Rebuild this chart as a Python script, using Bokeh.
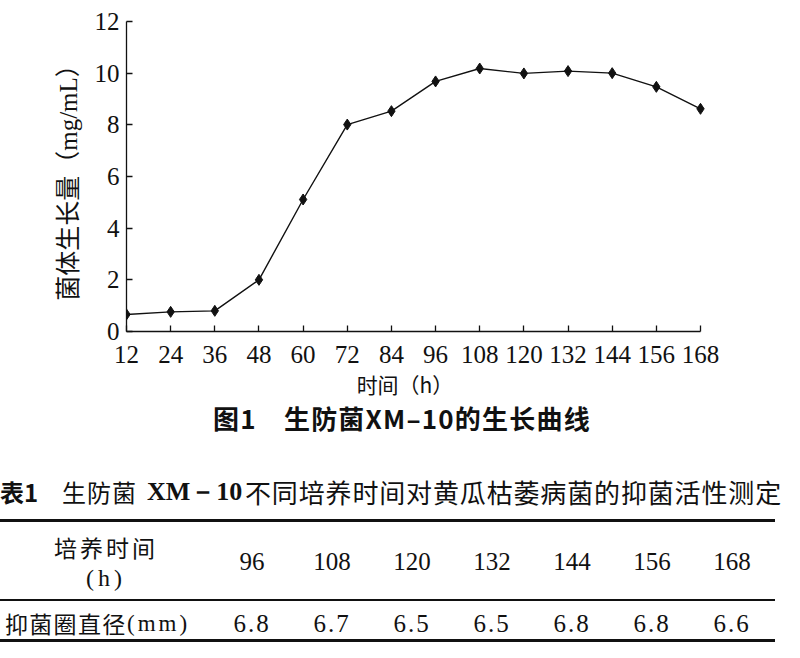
from bokeh.plotting import figure
from bokeh.layouts import column
from bokeh.models import FixedTicker, Range1d, Div
from bokeh.embed import file_html
from bokeh.resources import INLINE

# ---- data: growth curve (Figure 1) ----
hours = [12, 24, 36, 48, 60, 72, 84, 96, 108, 120, 132, 144, 156, 168]
biomass = [0.66, 0.76, 0.80, 2.0, 5.11, 8.01, 8.53, 9.68, 10.18, 9.99, 10.08, 10.0, 9.47, 8.62]
y_ticks = [0, 2, 4, 6, 8, 10, 12]

# ---- data: Table 1 ----
table_hours = [96, 108, 120, 132, 144, 156, 168]
inhibition_mm = [6.8, 6.7, 6.5, 6.5, 6.8, 6.8, 6.6]

x_label = "时间（h）"
y_label = "菌体生长量（mg/mL）"
fig_caption = "图1　生防菌XM–10的生长曲线"
tab_caption_a = "表1"
tab_caption_b = "生防菌"
tab_caption_c = "XM－10"
tab_caption_d = "不同培养时间对黄瓜枯萎病菌的抑菌活性测定"
row_head_1 = "培养时间"
row_head_1b = "(h)"
row_head_2a = "抑菌圈直径"
row_head_2b = "(mm)"

SERIF = "Liberation Serif, Noto Sans CJK SC"
INK = "#111111"

# ---------------- chart ----------------
W = 792
CH = 372                     # chart height
AX_L, AX_R, FT, FB = 126, 700, 21, 331
ppx = (AX_R - AX_L) / (hours[-1] - hours[0])
PADPX = 7
pad = PADPX / ppx

p = figure(width=W, height=CH,
           x_range=Range1d(hours[0], hours[-1] + pad), y_range=Range1d(0, 12),
           output_backend="svg", toolbar_location=None,
           min_border_left=AX_L, min_border_right=W - AX_R - PADPX,
           min_border_top=FT, min_border_bottom=CH - FB)
p.xgrid.visible = False
p.ygrid.visible = False
p.outline_line_color = None
p.background_fill_color = "white"
p.border_fill_color = "white"

p.line(hours, biomass, line_color=INK, line_width=1.4)
p.scatter(hours, biomass, marker="diamond", size=11, color=INK)

for ax in (p.xaxis[0], p.yaxis[0]):
    ax.axis_line_color = INK
    ax.axis_line_width = 1.3
    ax.major_tick_line_color = INK
    ax.major_tick_line_width = 1.3
    ax.major_tick_in = 6
    ax.major_tick_out = 0
    ax.minor_tick_line_color = None
    ax.major_label_text_font = SERIF
    ax.major_label_text_font_size = "25px"
    ax.major_label_text_color = INK

p.xaxis.bounds = (hours[0], hours[-1])
p.xaxis.major_label_standoff = 14
p.yaxis.major_label_standoff = 7
p.xaxis.ticker = FixedTicker(ticks=hours)
p.yaxis.ticker = FixedTicker(ticks=y_ticks)
p.yaxis.axis_label = y_label
p.yaxis.axis_label_text_font = SERIF
p.yaxis.axis_label_text_font_size = "25px"
p.yaxis.axis_label_text_font_style = "normal"
p.yaxis.axis_label_text_color = INK
p.yaxis.axis_label_standoff = 10

# ---------------- caption + table (HTML text) ----------------
DH = 278
CJK_CSS = "'Noto Sans CJK SC'"
SER_CSS = "'Liberation Serif','Noto Sans CJK SC'"


def span(x, y, text, size, font=CJK_CSS, weight="normal", align="center", ls=0):
    tx = {"center": "-50%", "left": "0", "right": "-100%"}[align]
    return (f'<span style="position:absolute;left:{x}px;top:{y - CH}px;'
            f'transform:translate({tx},-50%);white-space:nowrap;line-height:1;'
            f'font-family:{font};font-size:{size}px;font-weight:{weight};'
            f'letter-spacing:{ls}px;color:{INK}">{text}</span>')


def rule(y, th):
    return (f'<div style="position:absolute;left:0px;top:{y - th / 2 - CH}px;width:775px;'
            f'height:{th}px;background:{INK}"></div>')


parts = []
parts.append(span(405, 384, x_label, 21))
parts.append(span(213, 418, fig_caption, 26, weight="bold", align="left", ls=1.2))
parts.append(span(0, 492, tab_caption_a, 24, weight="bold", align="left"))
parts.append(span(62, 492, tab_caption_b, 24, align="left", ls=1))
parts.append(span(147, 492, tab_caption_c, 26, font="'Liberation Serif'", weight="bold", align="left"))
parts.append(span(245, 492, tab_caption_d, 26, align="left", ls=0.85))
parts.append(rule(520, 3))
parts.append(rule(600, 1.2))
parts.append(rule(640, 3))
parts.append(span(106, 547, row_head_1, 23, ls=3))
parts.append(span(106, 578, row_head_1b, 24, font="'Liberation Serif'", ls=4))
parts.append(span(5, 623, row_head_2a, 23, align="left", ls=1.3))
parts.append(span(127, 623, row_head_2b, 23, font="'Liberation Serif'", align="left", ls=3))
for i, (h, v) in enumerate(zip(table_hours, inhibition_mm)):
    cx = 252 + 80 * i
    parts.append(span(cx, 561, str(h), 25, font="'Liberation Serif'"))
    parts.append(span(cx, 623, f"{v:.1f}", 25, font="'Liberation Serif'", ls=2))

html = (f'<div style="position:relative;width:{W}px;height:{DH}px;overflow:visible;">'
        + "".join(parts) + "</div>")
table = Div(text=html, width=W, height=DH, margin=(0, 0, 0, 0))

layout = column(p, table, spacing=0)
open("out.html", "w").write(file_html(layout, INLINE))
